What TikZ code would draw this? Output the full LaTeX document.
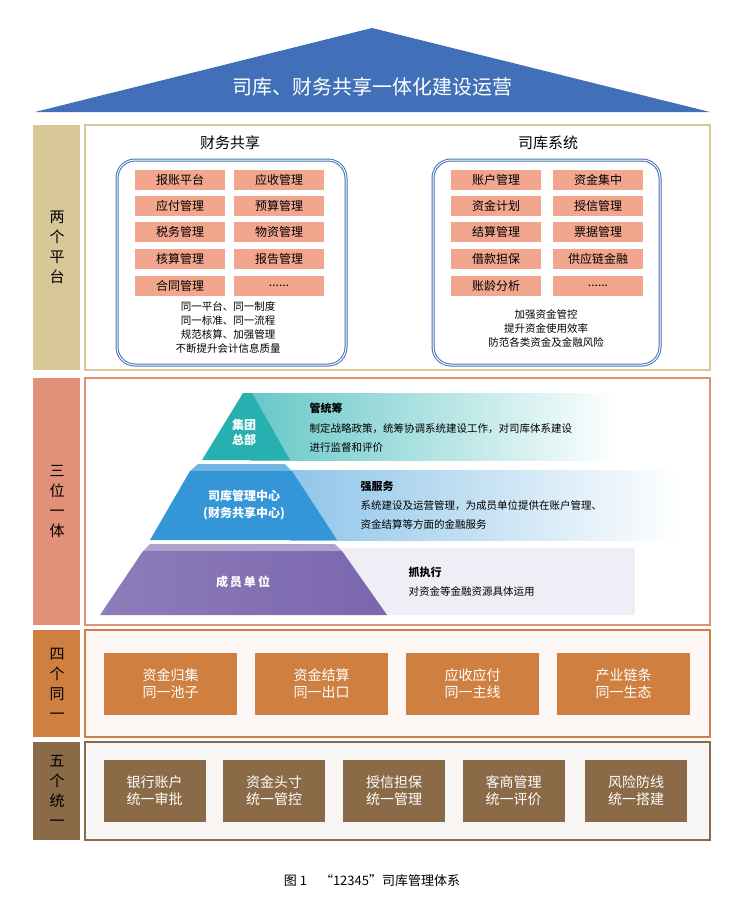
\documentclass[tikz,border=0pt]{standalone}
\usepackage{fontspec}
\setmainfont{Noto Sans CJK SC}
\usetikzlibrary{positioning}
\definecolor{roofblue}{HTML}{4170B8}
\definecolor{tan}{HTML}{D8C898}
\definecolor{salmon}{HTML}{E39079}
\definecolor{orng}{HTML}{CF8040}
\definecolor{brwn}{HTML}{8A6A47}
\definecolor{itempink}{HTML}{F2A68E}
\definecolor{teal}{HTML}{26B0B0}
\definecolor{midblue}{HTML}{3496D6}
\definecolor{purp}{HTML}{7A66AE}
\newcommand\moredots{......}
\tikzset
{
    sidebar/.style = {rectangle, fill=#1, minimum width=47pt, inner sep=0pt, text width=14pt, align=center, font=\fontsize{15}{20}\selectfont},
    panel/.style   = {rectangle, draw=#1, line width=1.2pt, minimum width=625pt, inner sep=0pt},
    item/.style    = {rectangle, fill=itempink, minimum width=90pt, minimum height=20pt, inner sep=0pt, font=\fontsize{12}{12}\selectfont},
    platform/.style= {rectangle, rounded corners=18pt, draw=roofblue, line width=1pt, double=white, double distance=1pt},
    tagbox/.style  = {rectangle, fill=#1, minimum height=62pt, inner sep=0pt, align=center, text=white, font=\fontsize{14}{17}\selectfont},
    note/.style    = {align=center, font=\fontsize{10.5}{14}\selectfont},
    desc/.style    = {anchor=west, align=left, font=\fontsize{10.5}{19}\selectfont},
    head/.style    = {anchor=west, font=\bfseries\fontsize{11}{13}\selectfont}
}
\begin{document}
\begin{tikzpicture}[x=1pt, y=-1pt]
   \useasboundingbox (0,0) rectangle (738,906);
   % roof
   \fill[roofblue] (35,112) -- (372,28) -- (710,112) -- cycle;
   \node (roof) [text=white, font=\fontsize{20}{20}\selectfont] at (372,87) {司库、财务共享一体化建设运营};

   % side bars
   \node (s2) [sidebar=tan, minimum height=245pt]    at (56.5,247.5) {两\\个\\平\\台};
   \node (s3) [sidebar=salmon, minimum height=247pt] at (56.5,501.5) {三\\位\\一\\体};
   \node (s4) [sidebar=orng, minimum height=107pt]   at (56.5,683.5) {四\\个\\同\\一};
   \node (s5) [sidebar=brwn, minimum height=98pt]    at (56.5,791)   {五\\个\\统\\一};

   % panels
   \node (p2) [panel=tan, minimum height=245pt]                 at (397.5,247.5) {};
   \node (p3) [panel=salmon, minimum height=247pt]              at (397.5,501.5) {};
   \node (p4) [panel=orng, fill=orng!6, minimum height=107pt]   at (397.5,683.5) {};
   \node (p5) [panel=brwn, fill=brwn!6, minimum height=98pt]    at (397.5,791)   {};

   % two platforms
   \node (fs) [font=\fontsize{15}{15}\selectfont] at (230,143) {财务共享};
   \node (sk) [font=\fontsize{15}{15}\selectfont] at (548,143) {司库系统};
   \node (fsbox) [platform, minimum width=229pt, minimum height=205pt] at (231.5,262.5) {};
   \node (skbox) [platform, minimum width=227pt, minimum height=205pt] at (546.5,262.5) {};
   \foreach \y/\a/\b in {180/报账平台/应收管理, 206/应付管理/预算管理, 232/税务管理/物资管理, 259/核算管理/报告管理, 286/合同管理/\moredots}
   {
      \node [item] at (180,\y) {\a};
      \node [item] at (279,\y) {\b};
   }
   \foreach \y/\a/\b in {180/账户管理/资金集中, 206/资金计划/授信管理, 232/结算管理/票据管理, 259/借款担保/供应链金融, 286/账龄分析/\moredots}
   {
      \node [item] at (496,\y) {\a};
      \node [item] at (598,\y) {\b};
   }
   \node (fsnote) [note] at (228,328) {同一平台、同一制度\\同一标准、同一流程\\规范核算、加强管理\\不断提升会计信息质量};
   \node (sknote) [note] at (546,328) {加强资金管控\\提升资金使用效率\\防范各类资金及金融风险};

   % pyramid
   \shade[left color=teal!70, right color=white] (250,393) rectangle (620,460);
   \shade[left color=midblue!55, right color=white] (290,470) rectangle (680,540);
   \fill[purp!12] (340,548) rectangle (635,615);
   \fill[teal] (243,393) -- (252,393) -- (290,460) -- (202,460) -- cycle;
   \fill[midblue!70] (198,464) -- (285,464) -- (292,471) -- (190,471) -- cycle;
   \fill[midblue] (190,471) -- (292,471) -- (337,540) -- (150,540) -- cycle;
   \fill[purp!60] (150,544) -- (335,544) -- (342,551) -- (143,551) -- cycle;
   \shade[left color=purp!85, right color=purp] (143,551) -- (342,551) -- (387,615) -- (100,615) -- cycle;
   \node (hq)  [text=white, align=center, font=\bfseries\fontsize{12}{15}\selectfont] at (244,432) {集团\\总部};
   \node (ctr) [text=white, align=center, font=\bfseries\fontsize{12}{17}\selectfont] at (244,505) {司库管理中心\\(财务共享中心)};
   \node (mem) [text=white, font=\bfseries\fontsize{12}{12}\selectfont] at (243,582) {成\,员\,单\,位};
   \node (h1) [head] at (306,408) {管统筹};
   \node (d1) [desc] at (306,438) {制定战略政策，统筹协调系统建设工作，对司库体系建设\\进行监督和评价};
   \node (h2) [head] at (357,486) {强服务};
   \node (d2) [desc] at (357,515) {系统建设及运营管理，为成员单位提供在账户管理、\\资金结算等方面的金融服务};
   \node (h3) [head] at (405,572) {抓执行};
   \node (d3) [desc] at (405,591) {对资金等金融资源具体运用};

   % four same
   \foreach \x/\t [count=\i] in {170.5/资金归集\\同一池子, 321.5/资金结算\\同一出口, 472.5/应收应付\\同一主线, 623.5/产业链条\\同一生态}
      \node (f\i) [tagbox=orng, minimum width=133pt] at (\x,684) {\t};

   % five unified
   \foreach \x/\t [count=\i] in {154.5/银行账户\\统一审批, 274/资金头寸\\统一管控, 394/授信担保\\统一管理, 513.5/客商管理\\统一评价, 636/风险防线\\统一搭建}
      \node (u\i) [tagbox=brwn, minimum width=102pt] at (\x,791) {\t};

   \node (cap) [font=\fontsize{13}{13}\selectfont] at (372,881) {图 1\quad “12345”司库管理体系};
\end{tikzpicture}
\end{document}
